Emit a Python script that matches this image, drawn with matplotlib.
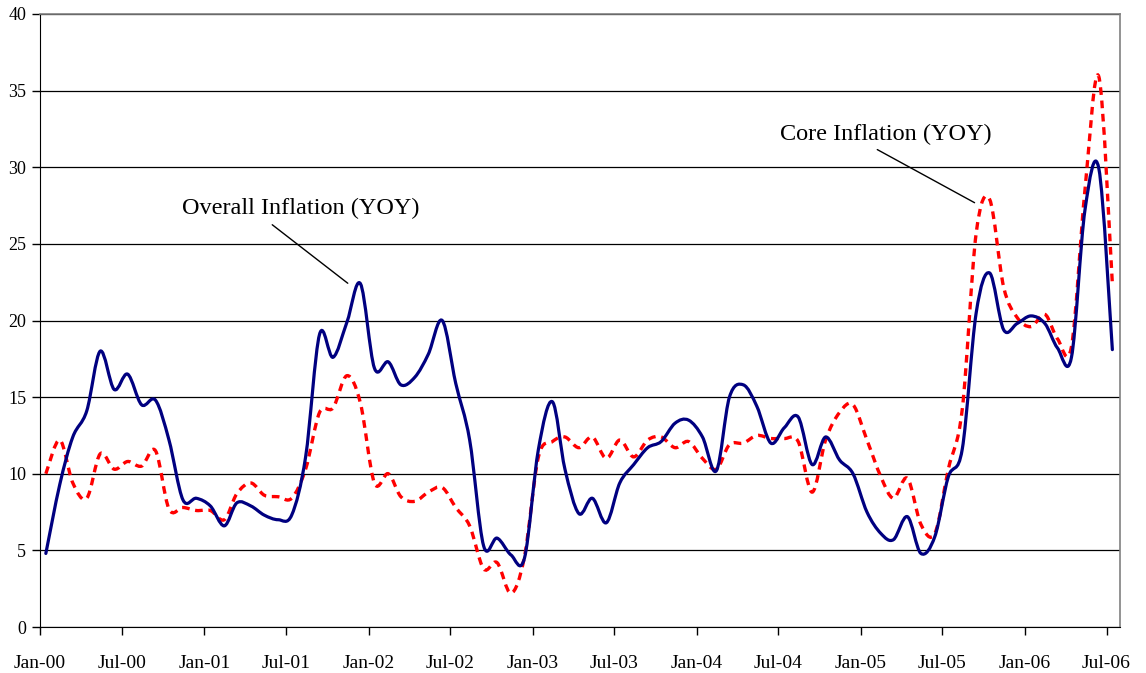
import numpy as np
import pandas as pd
import matplotlib
matplotlib.use("Agg")
import matplotlib.pyplot as plt
import matplotlib.dates as mdates
from matplotlib.path import Path
from matplotlib.patches import PathPatch

# monthly observations, Jan-00 .. Jul-06 (plotted mid-month)
months = pd.date_range("2000-01-01", periods=79, freq="MS") + pd.Timedelta(days=13)

overall = [4.8, 9.3, 12.4, 14.1, 18.0, 15.5, 16.5, 14.5, 14.8, 12.2, 8.3, 8.4,
           7.9, 6.6, 8.1, 7.9, 7.3, 7.0, 7.3, 11.1, 19.1, 17.6, 19.9, 22.4,
           16.9, 17.3, 15.8, 16.3, 17.8, 20.0, 15.9, 12.2, 5.3, 5.8, 4.7, 4.5,
           11.6, 14.7, 10.3, 7.4, 8.4, 6.8, 9.4, 10.6, 11.7, 12.1, 13.3, 13.5,
           12.4, 10.2, 15.0, 15.8, 14.4, 12.0, 13.0, 13.7, 10.6, 12.4, 10.9, 10.0,
           7.5, 6.1, 5.7, 7.2, 4.8, 5.9, 9.8, 11.6, 20.5, 23.1, 19.4, 19.8,
           20.3, 19.8, 18.2, 17.6, 27.2, 29.9, 18.1]

core = [10.0, 12.2, 9.4, 8.4, 11.3, 10.3, 10.8, 10.5, 11.5, 7.7, 7.8, 7.6,
        7.6, 7.0, 8.7, 9.4, 8.6, 8.5, 8.4, 10.3, 14.0, 14.3, 16.4, 14.6,
        9.4, 10.0, 8.5, 8.2, 8.8, 9.1, 7.8, 6.6, 3.8, 4.2, 2.2, 4.6,
        11.1, 12.1, 12.4, 11.7, 12.4, 11.0, 12.2, 11.1, 12.2, 12.4, 11.7, 12.1,
        11.0, 10.3, 11.9, 12.0, 12.5, 12.3, 12.3, 12.1, 8.8, 12.2, 14.0, 14.5,
        12.2, 9.8, 8.4, 9.7, 6.7, 6.1, 10.3, 14.2, 25.7, 27.9, 22.2, 20.2,
        19.6, 20.4, 18.8, 18.3, 28.5, 35.9, 22.4]


def smooth_path(x, y):
    # Excel style smoothed line: cubic bezier through every point
    x = np.asarray(x, float)
    y = np.asarray(y, float)
    xp = np.concatenate([[x[0]], x, [x[-1]]])
    yp = np.concatenate([[y[0]], y, [y[-1]]])
    verts = [(x[0], y[0])]
    codes = [Path.MOVETO]
    for i in range(len(x) - 1):
        c1 = (x[i] + (xp[i + 2] - xp[i]) / 6, y[i] + (yp[i + 2] - yp[i]) / 6)
        c2 = (x[i + 1] - (xp[i + 3] - xp[i + 1]) / 6, y[i + 1] - (yp[i + 3] - yp[i + 1]) / 6)
        verts += [c1, c2, (x[i + 1], y[i + 1])]
        codes += [Path.CURVE4] * 3
    return Path(verts, codes)


plt.rcParams['font.family'] = ['Liberation Serif', 'DejaVu Serif']

fig = plt.figure(figsize=(11.46, 6.73), dpi=100)
ax = fig.add_axes([40 / 1146, 46 / 673, 1080 / 1146, 613 / 673])

xd = mdates.date2num(months.to_pydatetime())

ax.add_patch(PathPatch(smooth_path(xd, core), fill=False, edgecolor='#FF0000',
                       lw=2.4, linestyle=(0, (2.3, 1.7)), capstyle='butt', zorder=3))
ax.add_patch(PathPatch(smooth_path(xd, overall), fill=False, edgecolor='#000080',
                       lw=2.3, capstyle='round', joinstyle='round', zorder=4))

ax.set_xlim(mdates.date2num(pd.Timestamp("2000-01-01")), mdates.date2num(pd.Timestamp("2006-07-31")))
ax.set_ylim(0, 40)
ax.set_yticks(range(0, 41, 5))
ax.xaxis.set_major_locator(mdates.MonthLocator(bymonth=[1, 7]))
ax.xaxis.set_major_formatter(mdates.DateFormatter("%b-%y"))

ax.grid(axis='y', color='black', lw=0.9)
ax.set_axisbelow(True)
for s in ['top', 'right']:
    ax.spines[s].set_color('#808080')
    ax.spines[s].set_linewidth(1.2)
ax.spines['left'].set_color('black')
ax.spines['bottom'].set_color('black')
ax.tick_params(axis='both', direction='out', length=6, width=1, labelsize=14)
ax.tick_params(axis='y', labelsize=13, pad=4)
ax.tick_params(axis='x', pad=14)

ax.text(0.2417, 0.682, "Overall Inflation (YOY)", transform=ax.transAxes,
        ha='center', va='center', fontsize=17.5)
ax.annotate('', xy=(0.287, 0.558), xytext=(0.213, 0.659),
            xycoords='axes fraction', textcoords='axes fraction',
            arrowprops=dict(arrowstyle='-', lw=1, color='black'))

ax.text(0.783, 0.803, "Core Inflation (YOY)", transform=ax.transAxes,
        ha='center', va='center', fontsize=17.5)
ax.annotate('', xy=(0.8676, 0.690), xytext=(0.773, 0.781),
            xycoords='axes fraction', textcoords='axes fraction',
            arrowprops=dict(arrowstyle='-', lw=1, color='black'))

fig.savefig("out.png", dpi=100)
